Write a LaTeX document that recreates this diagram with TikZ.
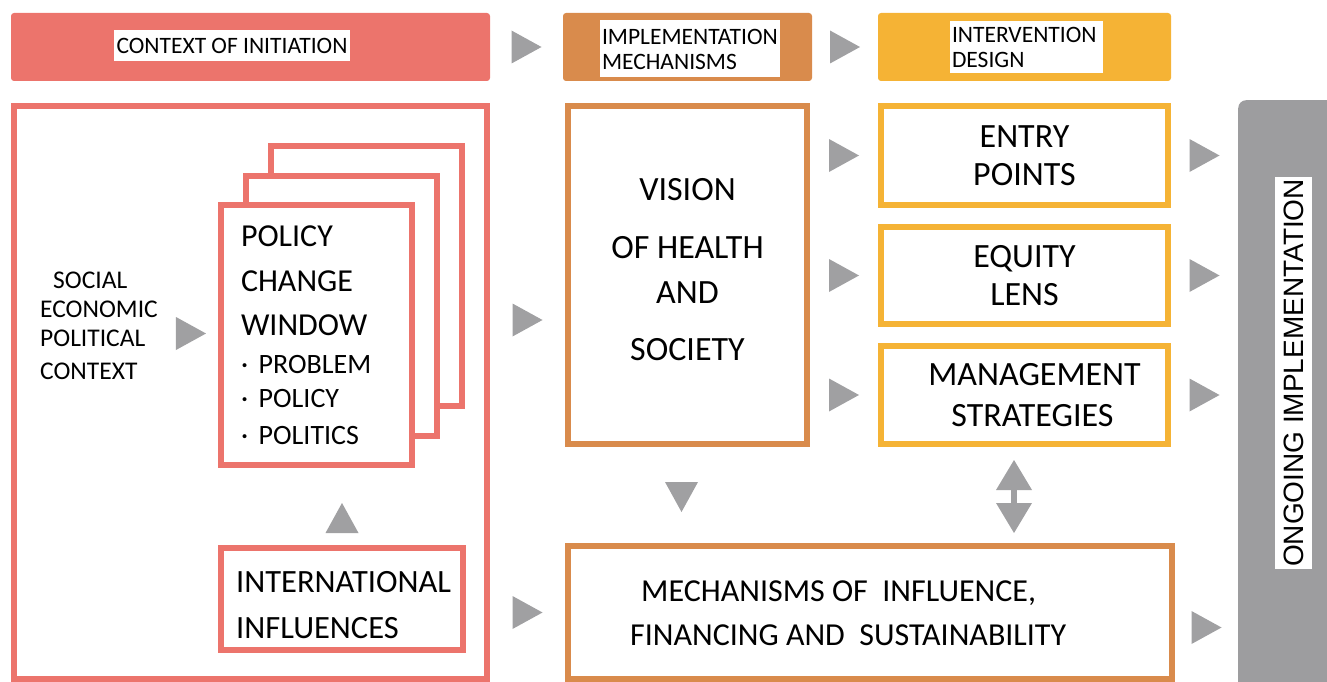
\documentclass[tikz,border=0pt]{standalone}
\usepackage{fontspec}
\setmainfont{Carlito}
\newfontfamily\arialfont{Liberation Sans}
\usetikzlibrary{shapes.geometric, arrows.meta, calc}

\definecolor{ctxred}{RGB}{236,116,108}
\definecolor{impor}{RGB}{217,139,76}
\definecolor{intyel}{RGB}{245,179,53}
\definecolor{arrgray}{RGB}{160,160,162}
\definecolor{bargray}{RGB}{157,157,159}

\newcommand{\smf}{\fontsize{28}{34}\selectfont}

\tikzstyle{header} = [rectangle, rounded corners=3pt, minimum height=68pt, inner sep=0pt]
\tikzstyle{tag} = [rectangle, fill=white, inner xsep=2pt, inner ysep=0pt, align=left, font=\fontsize{23.5}{25}\selectfont]
\tikzstyle{redbox} = [rectangle, draw=ctxred, line width=6pt, fill=white, inner sep=0pt]
\tikzstyle{orangebox} = [rectangle, draw=impor, line width=6pt, fill=white, inner sep=0pt, align=center]
\tikzstyle{yellowbox} = [rectangle, draw=intyel, line width=6pt, fill=white, inner sep=0pt, minimum width=287pt, align=center, font=\fontsize{34}{38}\selectfont]
\tikzstyle{dblarrow} = [draw=arrgray, line width=6pt, {Triangle[width=36pt,length=30pt,line width=0pt]}-{Triangle[width=36pt,length=30pt,line width=0pt]}]
\tikzset{tri/.pic={\fill[arrgray] (-15,-16.5) -- (15,0) -- (-15,16.5) -- cycle;}}

\begin{document}
\begin{tikzpicture}[x=1pt, y=-1pt]
\useasboundingbox (0,0) rectangle (1327,682);

% header row
\node (hctx) [header, fill=ctxred, minimum width=479pt] at (250.5,47) {};
\node (himp) [header, fill=impor, minimum width=249pt] at (687.5,47) {};
\node (hint) [header, fill=intyel, minimum width=293pt] at (1024.5,47) {};
\node (ctxlbl) [tag, minimum width=236pt, minimum height=31pt, align=center] at (232,46) {CONTEXT OF INITIATION};
\node (implbl) [tag, text width=176pt, minimum height=57pt] at (690,49) {IMPLEMENTATION\\MECHANISMS};
\node (intlbl) [tag, text width=149pt, minimum height=52pt] at (1026.5,47) {INTERVENTION\\DESIGN};

% context of initiation
\node (ctxbox) [redbox, minimum width=473pt, minimum height=573pt] at (250.5,392.5) {};
\node (page3) [redbox, minimum width=191pt, minimum height=260pt] at (366.5,276) {};
\node (page2) [redbox, minimum width=191pt, minimum height=260pt] at ($(page3)+(-25,29.5)$) {};
\node (page1) [redbox, minimum width=191pt, minimum height=260pt, text width=151pt, align=left, font=\fontsize{32}{34}\selectfont] at ($(page2)+(-25,29.5)$)
  {POLICY\\[11pt]CHANGE\\[10pt]WINDOW\\[4pt]\smf\textperiodcentered\ PROBLEM\\\smf\textperiodcentered\ POLICY\\[3pt]\smf\textperiodcentered\ POLITICS};
\node (ctxtext) [anchor=west, inner sep=0pt, align=left, font=\fontsize{25.5}{29}\selectfont] at (40,326)
  {\hspace*{13pt}SOCIAL\\ECONOMIC\\POLITICAL\\[4pt]CONTEXT};
\node (intl) [redbox, minimum width=242pt, minimum height=102pt] at (342,599) {};
\node (intltext) [anchor=west, inner sep=0pt, align=left, font=\fontsize{32.5}{46}\selectfont] at (236,605) {INTERNATIONAL\\INFLUENCES};

% implementation mechanisms
\node (vision) [orangebox, minimum width=239pt, minimum height=338pt, text depth=12pt, font=\fontsize{34}{45}\selectfont] at (687.5,275)
  {VISION\\[13pt]OF HEALTH\\AND\\[12pt]SOCIETY};
\node (mech) [orangebox, minimum width=604pt, minimum height=133pt] at (870,612.5) {};
\node (mechtext) [anchor=west, align=left, inner sep=0pt, font=\fontsize{32}{44}\selectfont] at (630,613)
  {\hspace*{11pt}MECHANISMS OF\ \ INFLUENCE,\\FINANCING AND\ \ SUSTAINABILITY};

% intervention design
\node (entry) [yellowbox, minimum height=99pt] at (1024.5,155.5) {ENTRY\\POINTS};
\node (equity) [yellowbox, minimum height=97pt] at (1024.5,275.5) {EQUITY\\LENS};
\node (mgmt) [yellowbox, minimum height=98pt, font=\fontsize{34}{41}\selectfont] at (1024.5,395) {\hspace*{20pt}MANAGEMENT\\\hspace*{16pt}STRATEGIES};

% ongoing implementation
\node (ongoing) [rectangle, fill=bargray, rounded corners=8pt, minimum width=110pt, minimum height=600pt, inner sep=0pt, anchor=north west] at (1238,100) {};
\node (ongoinglbl) [fill=white, rotate=90, minimum width=392pt, minimum height=37pt, inner sep=0pt, font=\arialfont\fontsize{28}{30}\selectfont] at (1293.5,373) {ONGOING IMPLEMENTATION};

% arrow heads
\pic at ($(hctx.east)!0.5!(himp.west)$) {tri};
\pic at ($(himp.east)!0.5!(hint.west)$) {tri};
\pic at ($(ctxtext.east)!0.5!(page1.west)+(3,3)$) {tri};
\pic at ($(ctxbox.east |- 0,320)!0.5!(vision.west |- 0,320)$) {tri};
\pic at ($(ctxbox.east |- mech.west)!0.5!(mech.west)$) {tri};
\foreach \b in {entry, equity, mgmt} {
  \pic at ($(vision.east |- \b.west)!0.5!(\b.west)$) {tri};
  \pic at ($(\b.east)!0.5!(ongoing.west |- \b.east)$) {tri};
}
\pic at ($(mech.east)!0.5!(ongoing.west |- mech.east)+(0,15)$) {tri};
\pic[rotate=-90] at ($(vision.south)!0.5!(vision.south |- mech.north)+(-6,2)$) {tri};
\pic[rotate=90] at ($(intl.north)+(0,-27)$) {tri};

\draw [dblarrow] ($(mgmt.south)+(-10.5,13)$) -- ($(mgmt.south |- mech.north)+(-10.5,-10)$);
\end{tikzpicture}
\end{document}
